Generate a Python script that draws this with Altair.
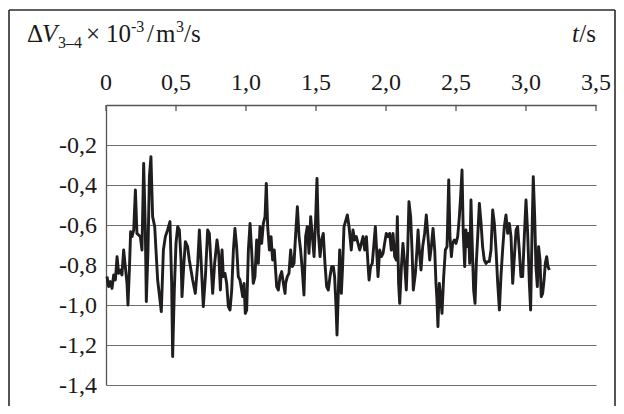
import altair as alt
import pandas as pd

FONT = "Liberation Serif"

# ---- data (t in s, dV in 10^-3 m3/s) ----
t_a = [0.007, 0.019, 0.031, 0.043, 0.055, 0.067, 0.079, 0.090, 0.102, 0.114, 0.126, 0.138, 0.150, 0.157, 0.167,
       0.176, 0.186, 0.198, 0.210, 0.221, 0.233, 0.245, 0.257, 0.269, 0.281, 0.288, 0.300, 0.310, 0.321, 0.333,
       0.348, 0.357, 0.369]
v_a = [-0.858, -0.908, -0.883, -0.917, -0.850, -0.875, -0.758, -0.842, -0.825, -0.850, -0.725, -0.808, -0.892, -1.000, -0.825,
       -0.633, -0.658, -0.625, -0.425, -0.642, -0.650, -0.658, -0.725, -0.292, -0.625, -0.983, -0.725, -0.358, -0.258, -0.558,
       -0.608, -0.725, -0.875]
t_b = [0.395, 0.410, 0.424, 0.440, 0.457, 0.469, 0.476, 0.488, 0.500, 0.512, 0.524, 0.536, 0.543, 0.555, 0.567,
       0.583, 0.595, 0.619, 0.638, 0.655, 0.667, 0.679, 0.695, 0.710, 0.726, 0.738, 0.750, 0.762, 0.776, 0.793,
       0.805, 0.817, 0.829]
v_b = [-1.033, -0.725, -0.658, -0.625, -0.583, -0.892, -1.258, -0.925, -0.692, -0.608, -0.625, -0.775, -0.958, -0.808, -0.683,
       -0.708, -0.775, -0.875, -0.942, -0.792, -0.625, -0.775, -1.008, -0.858, -0.625, -0.642, -0.792, -0.942, -0.792, -0.675,
       -0.742, -0.925, -0.725]
t_c = [0.838, 0.850, 0.862, 0.874, 0.886, 0.898, 0.910, 0.921, 0.933, 0.945, 0.957, 0.969, 0.976, 0.986, 0.995,
       1.005, 1.017, 1.029, 1.040, 1.052, 1.064, 1.076, 1.088, 1.100, 1.112, 1.124, 1.136, 1.145, 1.155, 1.167,
       1.179, 1.190, 1.202, 1.219, 1.231, 1.243, 1.255, 1.267, 1.279]
v_c = [-0.858, -0.842, -0.892, -1.008, -1.025, -0.925, -0.725, -0.617, -0.708, -0.858, -0.875, -0.925, -0.958, -0.892, -1.042,
       -1.025, -0.725, -0.592, -0.725, -0.892, -0.858, -0.675, -0.792, -0.608, -0.692, -0.592, -0.558, -0.392, -0.608, -0.725,
       -0.658, -0.775, -0.725, -0.908, -0.925, -0.858, -0.833, -0.892, -0.942]
t_d = [1.283, 1.295, 1.307, 1.319, 1.331, 1.343, 1.355, 1.367, 1.379, 1.390, 1.402, 1.414, 1.426, 1.438, 1.450,
       1.462, 1.474, 1.486, 1.498, 1.507, 1.517, 1.529, 1.540, 1.552, 1.564, 1.576, 1.588, 1.600, 1.612, 1.624,
       1.633, 1.643, 1.650, 1.660, 1.669, 1.681, 1.690, 1.700, 1.714, 1.724, 1.736]
v_d = [-0.892, -0.858, -0.842, -0.725, -0.808, -0.792, -0.642, -0.508, -0.658, -0.725, -0.825, -0.950, -0.658, -0.608, -0.742,
       -0.558, -0.658, -0.758, -0.558, -0.367, -0.642, -0.758, -0.675, -0.642, -0.792, -0.908, -0.925, -0.858, -0.808, -0.808,
       -0.858, -1.008, -1.150, -0.925, -0.725, -0.942, -0.808, -0.608, -0.575, -0.550, -0.608]
t_e = [1.752, 1.764, 1.776, 1.788, 1.800, 1.812, 1.824, 1.836, 1.848, 1.860, 1.871, 1.879, 1.890, 1.902, 1.914,
       1.924, 1.933, 1.943, 1.955, 1.967, 1.979, 1.990, 2.002, 2.014, 2.026, 2.038, 2.050, 2.062, 2.074, 2.081,
       2.090, 2.098, 2.110, 2.121, 2.133, 2.145, 2.155, 2.164, 2.176, 2.186, 2.195]
v_e = [-0.725, -0.625, -0.675, -0.658, -0.692, -0.725, -0.692, -0.658, -0.725, -0.658, -0.792, -0.875, -0.808, -0.792, -0.692,
       -0.608, -0.725, -0.858, -0.725, -0.758, -0.742, -0.692, -0.642, -0.658, -0.642, -0.725, -0.642, -0.758, -0.775, -0.558,
       -0.892, -0.992, -0.808, -0.692, -0.792, -0.925, -0.725, -0.483, -0.558, -0.725, -0.925]
t_f = [2.210, 2.221, 2.229, 2.238, 2.250, 2.262, 2.276, 2.288, 2.300, 2.312, 2.324, 2.336, 2.348, 2.357, 2.364,
       2.371, 2.381, 2.390, 2.400, 2.412, 2.424, 2.436, 2.448, 2.457, 2.467, 2.476, 2.488, 2.500, 2.512, 2.524,
       2.533, 2.543, 2.552, 2.562, 2.571, 2.581, 2.590, 2.598, 2.607, 2.617, 2.626, 2.636, 2.645]
v_f = [-0.842, -0.725, -0.625, -0.725, -0.825, -0.708, -0.642, -0.550, -0.658, -0.775, -0.708, -0.617, -0.725, -0.892, -0.975,
       -1.108, -0.892, -0.958, -1.042, -0.858, -0.725, -0.708, -0.375, -0.658, -0.758, -0.692, -0.675, -0.692, -0.658, -0.558,
       -0.458, -0.325, -0.642, -0.808, -0.625, -0.708, -0.642, -0.792, -0.475, -0.725, -0.925, -0.992, -0.792]
t_g = [2.655, 2.667, 2.679, 2.690, 2.702, 2.714, 2.726, 2.738, 2.750, 2.762, 2.774, 2.786, 2.798, 2.810, 2.821,
       2.833, 2.845, 2.857, 2.869, 2.881, 2.893, 2.905, 2.917, 2.929, 2.940, 2.952, 2.964, 2.976, 2.988, 3.000,
       3.012, 3.024, 3.033, 3.043, 3.052, 3.062, 3.071, 3.081, 3.090, 3.100, 3.109, 3.119, 3.129, 3.138, 3.148,
       3.157, 3.167]
v_g = [-0.658, -0.492, -0.592, -0.708, -0.775, -0.792, -0.783, -0.783, -0.725, -0.525, -0.592, -0.725, -0.892, -1.025, -0.858,
       -0.725, -0.608, -0.550, -0.642, -0.592, -0.658, -0.892, -0.758, -0.625, -0.608, -0.725, -0.858, -0.858, -0.658, -0.475,
       -0.642, -0.892, -1.025, -0.642, -0.358, -0.558, -0.808, -0.908, -0.708, -0.775, -0.958, -0.942, -0.875, -0.792, -0.758,
       -0.808, -0.825]

x_ticks = [0, 0.5, 1.0, 1.5, 2.0, 2.5, 3.0, 3.5]
x_labels = ["0", "0,5", "1,0", "1,5", "2,0", "2,5", "3,0", "3,5"]
y_ticks = [-0.2, -0.4, -0.6, -0.8, -1.0, -1.2, -1.4]
y_labels = ["-0,2", "-0,4", "-0,6", "-0,8", "-1,0", "-1,2", "-1,4"]

t_all = t_a + t_b + t_c + t_d + t_e + t_f + t_g
v_all = v_a + v_b + v_c + v_d + v_e + v_f + v_g
assert len(t_all) == len(v_all)
df = pd.DataFrame({"t": t_all, "dv": v_all})
xlab_df = pd.DataFrame({"t": x_ticks, "lab": x_labels})
ylab_df = pd.DataFrame({"dv": y_ticks, "lab": y_labels})
one = pd.DataFrame({"k": [0]})

AX = "#555555"
TXT = "#1a1a1a"
xscale = alt.Scale(domain=[0, 3.5], nice=False, zero=False)
yscale = alt.Scale(domain=[-1.4, 0], nice=False, zero=False)

x_axis = alt.Axis(orient="top", values=x_ticks, title=None, grid=False, ticks=False,
                  labels=False, domainColor=AX, domainWidth=1.3)
y_axis = alt.Axis(values=y_ticks, title=None, grid=True, ticks=False, labels=False,
                  gridColor="#6e6e6e", gridWidth=1.2, domainColor=AX, domainWidth=1.3)

line = alt.Chart(df).mark_line(color="#1f1d1d", strokeWidth=2.9, strokeJoin="round").encode(
    x=alt.X("t:Q", scale=xscale, axis=x_axis),
    y=alt.Y("dv:Q", scale=yscale, axis=y_axis),
)

ticks = alt.Chart(xlab_df).mark_rule(color=AX, strokeWidth=1.3).encode(
    x=alt.X("t:Q", scale=xscale, axis=x_axis), y=alt.value(0), y2=alt.value(6))

x_text = alt.Chart(xlab_df).mark_text(
    font=FONT, fontSize=24, align="center", baseline="alphabetic", color=TXT).encode(
    x=alt.X("t:Q", scale=xscale, axis=x_axis), y=alt.value(-15), text="lab:N")

y_text = alt.Chart(ylab_df).mark_text(
    font=FONT, fontSize=24, align="right", baseline="middle", color=TXT, dy=1).encode(
    y=alt.Y("dv:Q", scale=yscale, axis=y_axis), x=alt.value(-9), text="lab:N")

FR = "#2a2a2a"
frame_l = alt.Chart(one).mark_rule(color=FR, strokeWidth=1.6).encode(
    x=alt.value(-97), y=alt.value(-95), y2=alt.value(305))
frame_t = alt.Chart(one).mark_rule(color=FR, strokeWidth=1.6).encode(
    x=alt.value(-97), x2=alt.value(509), y=alt.value(-95))
frame_r = alt.Chart(one).mark_rule(color=FR, strokeWidth=1.6).encode(
    x=alt.value(509), y=alt.value(-95), y2=alt.value(305))


def txt(s, x, y, size=25, style="normal", align="left"):
    return alt.Chart(one).mark_text(
        text=s, font=FONT, fontSize=size, fontStyle=style, align=align,
        baseline="alphabetic", color=TXT).encode(x=alt.value(x), y=alt.value(y))


BASE = -63
title_parts = [
    txt("Δ", -79, BASE),
    txt("V", -64, BASE, style="italic"),
    txt("3–4", -48, BASE + 6, size=16),
    txt("×", -20, BASE),
    txt("10", 0, BASE),
    txt("-3", 25, BASE - 10, size=16),
    txt("/", 41, BASE),
    txt("m", 50, BASE),
    txt("3", 70, BASE - 10, size=16),
    txt("/s", 78, BASE),
    txt("/s", 490, BASE, align="right"),
    txt("t", 473, BASE, style="italic", align="right"),
]

chart = alt.layer(line, ticks, x_text, y_text, frame_l, frame_t, frame_r, *title_parts).properties(
    width=490, height=280,
    padding={"left": 98, "top": 97, "right": 20, "bottom": 21},
    autosize=alt.AutoSizeParams(type="none"),
).configure(background="white").configure_view(strokeWidth=0)

chart.save("out.html", embed_options={"renderer": "svg", "actions": False})
